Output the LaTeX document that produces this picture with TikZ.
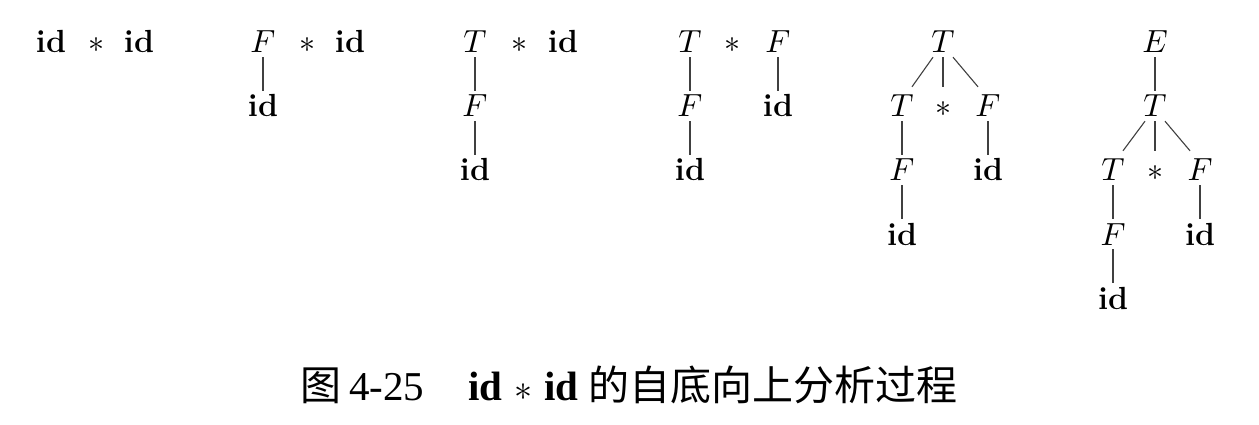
\documentclass[tikz,border=0pt]{standalone}
\usepackage{graphicx}
\usepackage{fontspec}
\newfontfamily\cjk{Noto Sans CJK SC}
\newfontfamily\lib{Liberation Serif}
\newcommand\ms[2][3.2]{\scalebox{#1}{\normalsize$#2$}}
\usetikzlibrary{calc}
\begin{document}
\begin{tikzpicture}[x=1pt,y=-1pt,
  sym/.style={font=\fontsize{32}{38}\selectfont, inner xsep=2pt, inner ysep=4pt,
              text height=22pt, text depth=0pt, anchor=center},
  edge/.style={line width=1.1pt, draw=black!75}]
\useasboundingbox[fill=white] (0,0) rectangle (1259,425);
% stage 1
\node[sym] (a1) at (51,42) {\textbf{id}};
\node[sym] (a2) at (96,42) {\ms{*}};
\node[sym] (a3) at (139,42) {\textbf{id}};
% stage 2
\node[sym] (b1) at (263,42) {\ms{F}};
\node[sym] (b2) at (307,42) {\ms{*}};
\node[sym] (b3) at (350,42) {\textbf{id}};
\node[sym] (b4) at (263,106) {\textbf{id}};
\draw[edge] (b1.south) -- (b4.north);
% stage 3
\node[sym] (c1) at (475,42) {\ms{T}};
\node[sym] (c2) at (519,42) {\ms{*}};
\node[sym] (c3) at (563,42) {\textbf{id}};
\node[sym] (c4) at (475,106) {\ms{F}};
\node[sym] (c5) at (475,170) {\textbf{id}};
\draw[edge] (c1.south) -- (c4.north);
\draw[edge] (c4.south) -- (c5.north);
% stage 4
\node[sym] (d1) at (690,42) {\ms{T}};
\node[sym] (d2) at (732,42) {\ms{*}};
\node[sym] (d3) at (778,42) {\ms{F}};
\node[sym] (d4) at (690,106) {\ms{F}};
\node[sym] (d5) at (690,170) {\textbf{id}};
\node[sym] (d6) at (778,106) {\textbf{id}};
\draw[edge] (d1.south) -- (d4.north);
\draw[edge] (d4.south) -- (d5.north);
\draw[edge] (d3.south) -- (d6.north);
% stage 5
\node[sym] (e0) at (943,42) {\ms{T}};
\node[sym] (e1) at (902,106) {\ms{T}};
\node[sym] (e2) at (943,106) {\ms{*}};
\node[sym] (e3) at (988,106) {\ms{F}};
\node[sym] (e4) at (902,170) {\ms{F}};
\node[sym] (e5) at (902,234) {\textbf{id}};
\node[sym] (e6) at (988,170) {\textbf{id}};
\draw[edge] ($(e0.south)+(-10,0)$) -- ($(e1.north)+(10,-4)$);
\draw[edge] (e0.south) -- ($(e2.north)+(0,-4)$);
\draw[edge] ($(e0.south)+(10,0)$) -- ($(e3.north)+(-10,-4)$);
\draw[edge] (e1.south) -- (e4.north);
\draw[edge] (e4.south) -- (e5.north);
\draw[edge] (e3.south) -- (e6.north);
% stage 6
\node[sym] (f0) at (1155,42) {\ms{E}};
\node[sym] (f1) at (1155,106) {\ms{T}};
\node[sym] (f2) at (1113,170) {\ms{T}};
\node[sym] (f3) at (1155,170) {\ms{*}};
\node[sym] (f4) at (1200,170) {\ms{F}};
\node[sym] (f5) at (1113,234) {\ms{F}};
\node[sym] (f6) at (1200,234) {\textbf{id}};
\node[sym] (f7) at (1113,298) {\textbf{id}};
\draw[edge] (f0.south) -- (f1.north);
\draw[edge] ($(f1.south)+(-10,0)$) -- ($(f2.north)+(10,-4)$);
\draw[edge] (f1.south) -- ($(f3.north)+(0,-4)$);
\draw[edge] ($(f1.south)+(10,0)$) -- ($(f4.north)+(-10,-4)$);
\draw[edge] (f2.south) -- (f5.north);
\draw[edge] (f5.south) -- (f7.north);
\draw[edge] (f4.south) -- (f6.north);
% caption
\node[font=\fontsize{41}{47}\selectfont, inner sep=0pt] (cap) at (629,385)
  {{\cjk 图}\hspace{8pt}{\lib 4-25}\hspace{44pt}{\lib\bfseries id}\hspace{12pt}\ms[3.6]{\ast}\hspace{12pt}{\lib\bfseries id}\hspace{10pt}{\cjk 的自底向上分析过程}};
\end{tikzpicture}
\end{document}
